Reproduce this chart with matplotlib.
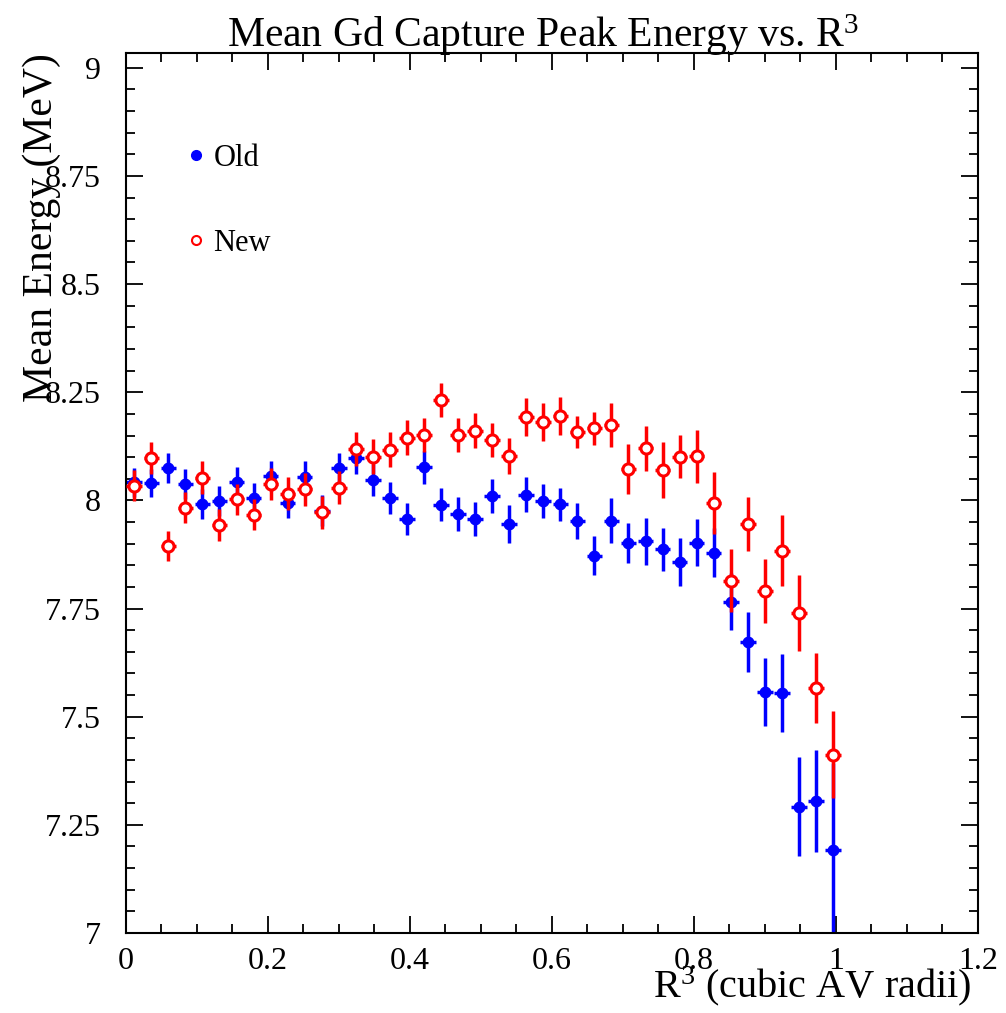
import numpy as np
import matplotlib
matplotlib.use("Agg")
import matplotlib.pyplot as plt
from matplotlib.lines import Line2D
from matplotlib.ticker import MultipleLocator

plt.rcParams['font.family'] = ['Liberation Serif', 'DejaVu Serif']
plt.rcParams['mathtext.fontset'] = 'custom'
plt.rcParams['mathtext.rm'] = 'Liberation Serif'
plt.rcParams['mathtext.default'] = 'regular'

# bin centres in R^3 (42 bins)
r3 = 0.012 + 0.024 * np.arange(42)

old_e = [8.042, 8.040, 8.075, 8.038, 7.992, 7.999, 8.043, 8.006, 8.057, 7.994,
         8.054, 7.976, 8.074, 8.098, 8.047, 8.006, 7.957, 8.077, 7.990, 7.969,
         7.957, 8.010, 7.946, 8.013, 7.999, 7.991, 7.953, 7.872, 7.953, 7.901,
         7.905, 7.887, 7.857, 7.902, 7.879, 7.766, 7.673, 7.557, 7.554, 7.292,
         7.305, 7.192]
old_err = [0.033, 0.033, 0.034, 0.034, 0.034, 0.034, 0.035, 0.035, 0.035, 0.035,
           0.036, 0.036, 0.036, 0.036, 0.037, 0.037, 0.038, 0.038, 0.038, 0.039,
           0.040, 0.040, 0.044, 0.040, 0.040, 0.038, 0.042, 0.045, 0.052, 0.046,
           0.054, 0.050, 0.055, 0.054, 0.057, 0.066, 0.069, 0.078, 0.090, 0.115,
           0.118, 0.200]

new_e = [8.034, 8.098, 7.895, 7.983, 8.052, 7.943, 8.003, 7.967, 8.038, 8.015,
         8.026, 7.973, 8.029, 8.119, 8.101, 8.117, 8.145, 8.151, 8.232, 8.151,
         8.161, 8.140, 8.103, 8.193, 8.182, 8.195, 8.158, 8.167, 8.175, 8.073,
         8.121, 8.071, 8.101, 8.102, 7.994, 7.814, 7.946, 7.791, 7.884, 7.740,
         7.566, 7.412]
new_err = [0.036, 0.038, 0.034, 0.036, 0.038, 0.036, 0.036, 0.036, 0.038, 0.038,
           0.038, 0.038, 0.038, 0.039, 0.040, 0.040, 0.040, 0.040, 0.039, 0.040,
           0.040, 0.040, 0.042, 0.044, 0.044, 0.044, 0.038, 0.038, 0.051, 0.058,
           0.052, 0.065, 0.050, 0.061, 0.072, 0.073, 0.063, 0.074, 0.083, 0.088,
           0.081, 0.100]

fig = plt.figure(figsize=(10.06, 10.13), dpi=100)
ax = fig.add_axes([0.125, 0.079, 0.847, 0.869])

ax.errorbar(r3, old_e, yerr=old_err, xerr=0.011, fmt='o', color='#0000ff',
            ms=7.5, elinewidth=2.5, capsize=0, zorder=2)
ax.errorbar(r3, new_e, yerr=new_err, xerr=0.011, fmt='o', color='#ff0000',
            mfc='white', mec='#ff0000', mew=2.2, ms=8, elinewidth=2.5,
            capsize=0, zorder=3)

ax.set_xlim(0, 1.2)
ax.set_ylim(7, 9.035)
ax.xaxis.set_minor_locator(MultipleLocator(0.05))
ax.yaxis.set_minor_locator(MultipleLocator(0.05))
ax.set_xticks([0, 0.2, 0.4, 0.6, 0.8, 1.0, 1.2])
ax.set_xticklabels(['0', '0.2', '0.4', '0.6', '0.8', '1', '1.2'])
ax.set_yticks([7, 7.25, 7.5, 7.75, 8, 8.25, 8.5, 8.75, 9])
ax.set_yticklabels(['7', '7.25', '7.5', '7.75', '8', '8.25', '8.5', '8.75', '9'])
ax.tick_params(which='both', direction='in', top=True, right=True,
               labelsize=23, width=1.3)
ax.tick_params(which='major', length=12)
ax.tick_params(which='minor', length=6.5)
ax.tick_params(axis='x', pad=10)
ax.tick_params(axis='y', pad=18)
for s in ax.spines.values():
    s.set_linewidth(1.5)

ax.set_xlabel('R$^{3}$ (cubic AV radii)', fontsize=29, loc='right')
ax.xaxis.set_label_coords(0.993, -0.036)
ax.set_ylabel('Mean Energy (MeV)', fontsize=30, loc='top', va='center')
ax.yaxis.set_label_coords(-0.099, 1.0)

fig.text(0.54, 0.943, 'Mean Gd Capture Peak Energy vs. R$^{3}$', fontsize=30,
         ha='center', va='bottom')

handles = [Line2D([], [], ls='none', marker='o', color='#0000ff', ms=7),
           Line2D([], [], ls='none', marker='o', mfc='white', mec='#ff0000',
                  mew=1.5, ms=6.5)]
ax.legend(handles, ['Old', 'New'], loc='upper left',
          bbox_to_anchor=(0.04, 0.928), frameon=False, fontsize=22,
          handlelength=0.6, handletextpad=0.25, labelspacing=1.85)

fig.savefig('out.png', dpi=100)
